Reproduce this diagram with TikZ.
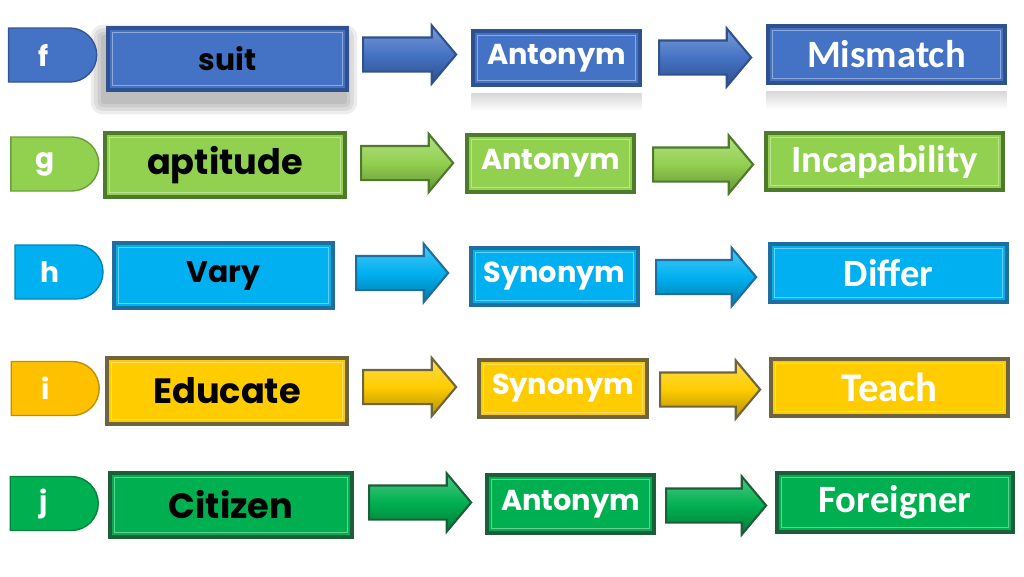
\documentclass[tikz,border=0pt]{standalone}
\usepackage{fontspec}
\setmainfont{Carlito}
\newfontfamily\twfont{Poppins}
\usetikzlibrary{shapes.arrows, shapes.misc, backgrounds}
\definecolor{fblue}{HTML}{4472C4}
\definecolor{fblueedge}{HTML}{2F528F}
\definecolor{glime}{HTML}{92D050}
\definecolor{glimeedge}{HTML}{4E7A2C}
\definecolor{hcyan}{HTML}{00B0F0}
\definecolor{hcyanedge}{HTML}{1E6E9E}
\definecolor{iyellow}{HTML}{FFC000}
\definecolor{iyellowbox}{HTML}{FFCC00}
\definecolor{iyellowedge}{HTML}{6E6440}
\definecolor{jgreen}{HTML}{00B050}
\definecolor{jgreenedge}{HTML}{1D5E3A}

\tikzset{
    bevel/.style={path picture={\draw[white, opacity=0.4, line width=0.5pt]
        ([shift={(1.3pt,1.3pt)}]path picture bounding box.south west) rectangle
        ([shift={(-1.3pt,-1.3pt)}]path picture bounding box.north east);}},
    tab/.style={rounded rectangle, rounded rectangle left arc=none, fill=#1, draw=#1!75!black, thin,
        minimum width=0.88cm, minimum height=0.54cm, inner sep=0pt, text=white,
        font=\twfont\bfseries\fontsize{8}{9}\selectfont, execute at end node=\hspace*{0.16cm}},
    box/.style 2 args={rectangle, fill=#1, draw=#2, line width=0.9pt, inner sep=0pt, bevel},
    word/.style={text=black, font=\twfont\bfseries\fontsize{10}{12}\selectfont},
    rel/.style={text=white, font=\twfont\bfseries\fontsize{8.2}{10}\selectfont},
    res/.style={text=white, font=\bfseries\fontsize{11}{13}\selectfont},
    blockarrow/.style 2 args={single arrow, top color=#1!70!white, bottom color=#1!70!black,
        middle color=#1, draw=#2, line width=0.6pt, inner xsep=0pt,
        inner ysep=0.16cm, single arrow head extend=0.12cm, single arrow tip angle=100,
        minimum height=0.93cm}
}

\begin{document}
\begin{tikzpicture}
    \useasboundingbox (0,0) rectangle (10.24,5.76);

    % Row f
    \node[tab=fblue] (tabf) at (0.515,5.21) {f};
    \node[box={fblue}{fblueedge}, word, font=\twfont\bfseries\fontsize{8.5}{10}\selectfont,
        minimum width=2.39cm, minimum height=0.62cm] (wordf) at (2.275,5.17) {suit};
    \node[blockarrow={fblue}{fblueedge}] (arrf1) at (4.025,5.215) {};
    \node[box={fblue}{fblueedge}, rel, minimum width=1.67cm, minimum height=0.54cm] (relf) at (5.565,5.18) {Antonym};
    \node[blockarrow={fblue}{fblueedge}, minimum height=0.92cm] (arrf2) at (6.98,5.185) {};
    \node[box={fblue}{fblueedge}, res, minimum width=2.37cm, minimum height=0.57cm] (resf) at (8.865,5.215) {Mismatch};
    % soft shadow and reflections of row f
    \begin{scope}[on background layer]
        \foreach \b in {0.5,1.5,2.5,3.5}
            \fill[black, opacity=0.07, rounded corners=\b pt]
                ([xshift=-1pt-\b pt, yshift=-3pt-\b pt]wordf.south west) rectangle
                ([xshift=-1pt+\b pt, yshift=-3pt+\b pt]wordf.north east);
    \end{scope}
    \shade[top color=gray!30, bottom color=white] ([yshift=-2pt]relf.south west) rectangle ([yshift=-7pt]relf.south east);
    \shade[top color=gray!30, bottom color=white] ([yshift=-2pt]resf.south west) rectangle ([yshift=-7pt]resf.south east);

    % Row g
    \node[tab=glime] (tabg) at (0.535,4.12) {g};
    \node[box={glime}{glimeedge}, word, minimum width=2.40cm, minimum height=0.64cm] (wordg) at (2.25,4.11) {aptitude};
    \node[blockarrow={glime}{glimeedge}, minimum height=0.92cm] (arrg1) at (4.0,4.13) {};
    \node[box={glime}{glimeedge}, rel, minimum width=1.67cm, minimum height=0.57cm] (relg) at (5.505,4.125) {Antonym};
    \node[blockarrow={glime}{glimeedge}, minimum height=1.0cm] (arrg2) at (6.96,4.115) {};
    \node[box={glime}{glimeedge}, res, minimum width=2.37cm, minimum height=0.57cm] (resg) at (8.845,4.145) {Incapability};

    % Row h
    \node[tab=hcyan] (tabh) at (0.58,3.04) {h};
    \node[box={hcyan}{hcyanedge}, word, font=\twfont\bfseries\fontsize{8.5}{10}\selectfont,
        minimum width=2.19cm, minimum height=0.65cm] (wordh) at (2.235,3.005) {Vary};
    \node[blockarrow={hcyan}{hcyanedge}, minimum height=0.92cm] (arrh1) at (3.95,3.03) {};
    \node[box={hcyan}{hcyanedge}, rel, minimum width=1.67cm, minimum height=0.57cm] (relh) at (5.545,2.995) {Synonym};
    \node[blockarrow={hcyan}{hcyanedge}, minimum height=1.0cm] (arrh2) at (6.99,2.99) {};
    \node[box={hcyan}{hcyanedge}, res, minimum width=2.37cm, minimum height=0.58cm] (resh) at (8.885,3.03) {Differ};

    % Row i
    \node[tab=iyellow] (tabi) at (0.54,1.875) {i};
    \node[box={iyellowbox}{iyellowedge}, word, minimum width=2.40cm, minimum height=0.66cm] (wordi) at (2.27,1.85) {Educate};
    \node[blockarrow={iyellowbox}{iyellowedge}] (arri1) at (4.025,1.89) {};
    \node[box={iyellowbox}{iyellowedge}, rel, minimum width=1.68cm, minimum height=0.57cm] (reli) at (5.63,1.875) {Synonym};
    \node[blockarrow={iyellowbox}{iyellowedge}, minimum height=1.0cm] (arri2) at (7.03,1.865) {};
    \node[box={iyellowbox}{iyellowedge}, res, font=\bfseries\fontsize{11.6}{13}\selectfont,
        minimum width=2.37cm, minimum height=0.57cm] (resi) at (8.895,1.885) {Teach};

    % Row j
    \node[tab=jgreen] (tabj) at (0.52,0.725) {j};
    \node[box={jgreen}{jgreenedge}, word, minimum width=2.42cm, minimum height=0.64cm] (wordj) at (2.31,0.71) {Citizen};
    \node[blockarrow={jgreen}{jgreenedge}, minimum height=1.02cm] (arrj1) at (4.13,0.735) {};
    \node[box={jgreen}{jgreenedge}, rel, minimum width=1.67cm, minimum height=0.58cm] (relj) at (5.705,0.72) {Antonym};
    \node[blockarrow={jgreen}{jgreenedge}, minimum height=1.0cm] (arrj2) at (7.09,0.705) {};
    \node[box={jgreen}{jgreenedge}, res, minimum width=2.36cm, minimum height=0.59cm] (resj) at (8.95,0.735) {Foreigner};
\end{tikzpicture}
\end{document}
